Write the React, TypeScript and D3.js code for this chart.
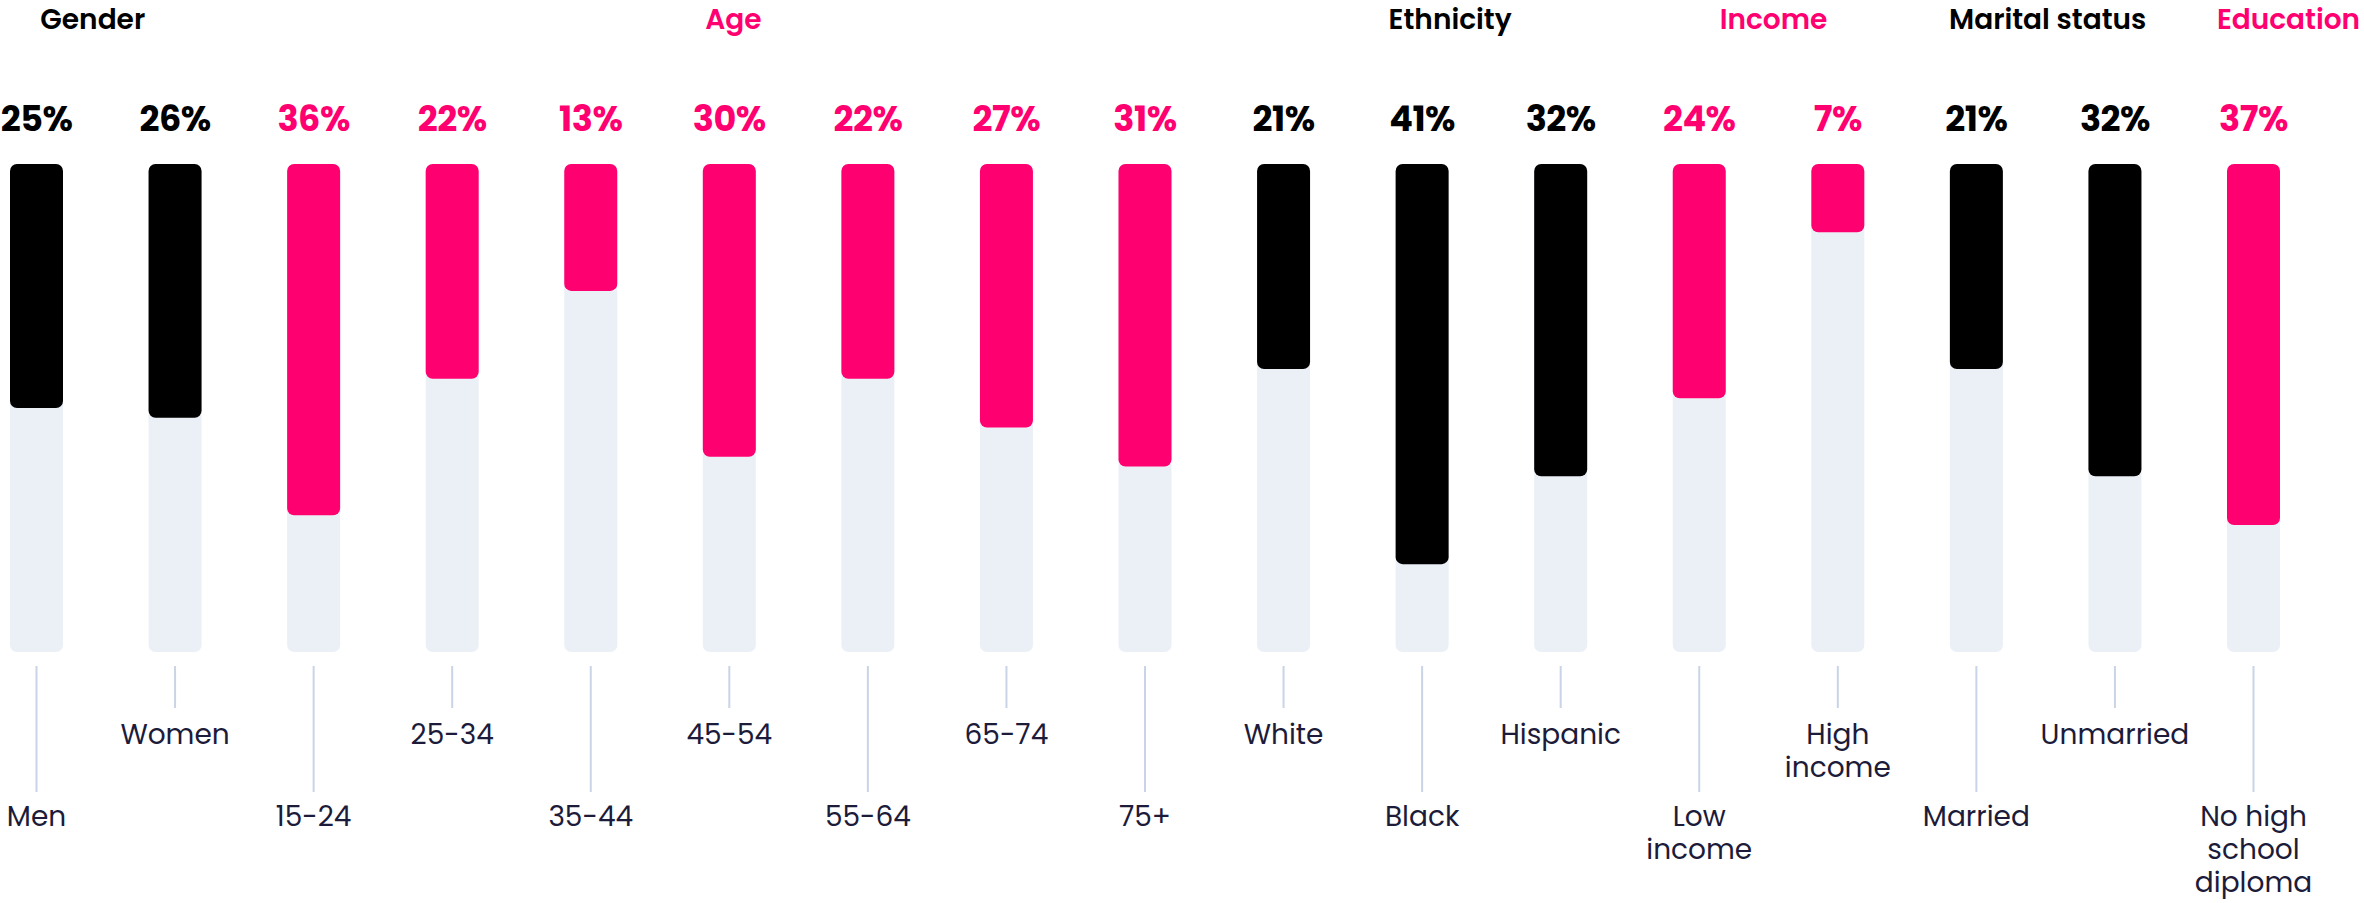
import React from "react";
import * as d3 from "d3";

const categories = ["Men","Women","15-24","25-34","35-44","45-54","55-64","65-74","75+","White","Black","Hispanic","Low income","High income","Married","Unmarried","No high school diploma"];
const labelLines = [["Men"],["Women"],["15-24"],["25-34"],["35-44"],["45-54"],["55-64"],["65-74"],["75+"],["White"],["Black"],["Hispanic"],["Low","income"],["High","income"],["Married"],["Unmarried"],["No high","school","diploma"]];
const values = [25,26,36,22,13,30,22,27,31,21,41,32,24,7,21,32,37];
const groupNames = ["Gender","Age","Ethnicity","Income","Marital status","Education"];
const groupOf = [0,0,1,1,1,1,1,1,1,2,2,2,3,3,4,4,5];
const groupColorKeys = ["dark","pink","dark","pink","dark","pink"];

const W = 2364, H = 903;
const COLORS: Record<string, string> = { dark: "#000000", pink: "#FF0071" };
const TITLE_SHIFT = [-13, 4, 28, 5, 2, 35];
const FONT = "Poppins, Inter, 'Noto Sans', sans-serif";

export default function App() {
  const x = d3.scalePoint<string>().domain(categories).range([36.5, 2253.5]);
  // distance from the top of the track
  const y = d3.scaleLinear().domain([0, 50]).range([164, 652]);
  const bw = 53;
  const r = 7;

  const groupCenters = groupNames.map((_, g) => {
    const xs = categories.filter((_, i) => groupOf[i] === g).map((c) => x(c) as number);
    return (d3.min(xs)! + d3.max(xs)!) / 2;
  });

  return (
    <svg width={W} height={H} style={{ position: "absolute", left: 0, top: 0, background: "#fff" }}>
      {groupNames.map((g, i) => (
        <text key={g} x={groupCenters[i] + TITLE_SHIFT[i]} y={29} textAnchor="middle"
          fontFamily={FONT} fontWeight={600} fontSize={28} fill={COLORS[groupColorKeys[i]]}>{g}</text>
      ))}
      {categories.map((c, i) => {
        const cx = x(c) as number;
        const color = COLORS[groupColorKeys[groupOf[i]]];
        const isTop = i % 2 === 1;
        const tickEnd = isTop ? 708 : 792;
        const labelY0 = isTop ? 744 : 826;
        return (
          <g key={c}>
            <rect x={cx - bw / 2} y={y(0)} width={bw} height={y(50) - y(0)} rx={r} fill="#EBF0F7" />
            <rect x={cx - bw / 2} y={y(0)} width={bw} height={y(values[i]) - y(0)} rx={r} fill={color} />
            <text x={cx} y={131} textAnchor="middle" fontFamily={FONT} fontWeight={700} fontSize={35}
              letterSpacing={-0.5} fill={color}>{values[i]}%</text>
            <line x1={cx} x2={cx} y1={666} y2={tickEnd} stroke="#C9D4E6" strokeWidth={2} />
            {labelLines[i].map((ln, k) => (
              <text key={k} x={cx} y={labelY0 + k * 33} textAnchor="middle" fontFamily={FONT}
                fontSize={28} fill="#1C1B3A">{ln}</text>
            ))}
          </g>
        );
      })}
    </svg>
  );
}
